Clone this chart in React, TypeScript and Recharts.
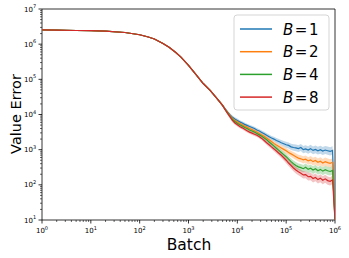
import React from "react";
import {
  ComposedChart,
  Line,
  Area,
  XAxis,
  YAxis,
  ReferenceArea,
} from "recharts";

// batches where all runs still overlap
const sharedBatch = [1, 2, 5, 10, 20, 50, 100, 150, 200, 300, 400, 550, 700, 1000, 1400, 2000, 2800, 4000];
const sharedValue = [2550000, 2500000, 2450000, 2420000, 2350000, 2150000, 1850000, 1600000, 1400000, 1050000, 820000, 580000, 430000, 250000, 141000, 76000, 48000, 26300];

const tailBatch = [
  5010, 5620, 6310, 7080, 7940, 8910, 10000, 11200, 12600, 14100, 15800, 17800, 20000, 22400, 25100, 28200,
  31600, 35500, 39800, 44700, 50100, 56200, 63100, 70800, 79400, 89100, 100000, 112000, 126000, 141000, 158000,
  178000, 200000, 224000, 251000, 282000, 316000, 355000, 398000, 447000, 501000, 562000, 631000, 708000, 794000,
  891000, 1000000,
];

const b1Tail = [
  18200, 14500, 11700, 9770, 8320, 7410, 6760, 6170, 5750, 5250, 4900, 4570, 4270, 3980, 3630, 3390, 3090, 2820,
  2570, 2340, 2140, 2000, 1820, 1700, 1580, 1480, 1380, 1320, 1200, 1150, 1120, 1070, 1150, 1000, 1050, 977, 1070,
  955, 1020, 933, 1000, 912, 977, 933, 891, 955, 10,
];
const b2Tail = [
  18200, 14100, 11500, 9330, 7760, 6760, 6170, 5620, 5130, 4680, 4370, 3980, 3720, 3470, 3160, 2880, 2630, 2400,
  2140, 1910, 1700, 1510, 1350, 1230, 1120, 1020, 933, 832, 759, 692, 631, 575, 550, 513, 537, 479, 513, 457, 490,
  437, 468, 417, 457, 427, 407, 437, 10,
];
const b4Tail = [
  17800, 14100, 11200, 8910, 7240, 6310, 5620, 5130, 4680, 4270, 3980, 3630, 3390, 3160, 2880, 2630, 2400, 2140,
  1910, 1660, 1450, 1260, 1100, 955, 832, 724, 631, 537, 457, 398, 355, 324, 309, 288, 316, 275, 295, 263, 288, 251,
  275, 245, 269, 251, 240, 257, 10,
];
const b8Tail = [
  17800, 13800, 10700, 8510, 6760, 5750, 5130, 4570, 4170, 3800, 3470, 3160, 2950, 2750, 2570, 2340, 2090, 1820,
  1580, 1380, 1200, 1050, 912, 794, 692, 589, 501, 417, 355, 302, 263, 234, 214, 191, 195, 170, 174, 151, 162, 141,
  155, 135, 148, 132, 126, 138, 10,
];

// multiplicative half-width of the shaded band, per point
const sharedSpread = [1.02, 1.02, 1.02, 1.02, 1.02, 1.02, 1.02, 1.02, 1.02, 1.02, 1.02, 1.03, 1.03, 1.04, 1.04, 1.05, 1.05, 1.06];
const tailSpread = [
  1.07, 1.09, 1.11, 1.12, 1.13, 1.13, 1.13, 1.12, 1.12, 1.12, 1.12, 1.12, 1.12, 1.12, 1.13, 1.13, 1.13, 1.14, 1.14,
  1.15, 1.15, 1.16, 1.17, 1.18, 1.19, 1.2, 1.21, 1.22, 1.23, 1.24, 1.25, 1.25, 1.26, 1.27, 1.27, 1.28, 1.28, 1.29,
  1.29, 1.29, 1.3, 1.3, 1.3, 1.31, 1.31, 1.31, 1.0,
];

const series = [
  { key: "b1", label: "1", color: "#1f77b4", tail: b1Tail },
  { key: "b2", label: "2", color: "#ff7f0e", tail: b2Tail },
  { key: "b4", label: "4", color: "#2ca02c", tail: b4Tail },
  { key: "b8", label: "8", color: "#d62728", tail: b8Tail },
];

const xMajor = [1, 10, 100, 1000, 10000, 100000, 1000000];
const yMajor = [10, 100, 1000, 10000, 100000, 1000000, 10000000];

const batch = [...sharedBatch, ...tailBatch];
const spread = [...sharedSpread, ...tailSpread];
const rows = batch.map((b, i) => {
  const row: Record<string, any> = { batch: b };
  series.forEach((s) => {
    const v = i < sharedValue.length ? sharedValue[i] : s.tail[i - sharedValue.length];
    row[s.key] = v;
    row[s.key + "Band"] = [v / spread[i], v * spread[i]];
  });
  return row;
});

const minorTicks = (majors: number[]) => {
  const out: number[] = [];
  majors.slice(0, -1).forEach((m) => {
    for (let k = 1; k < 10; k++) out.push(m * k);
  });
  out.push(majors[majors.length - 1]);
  return out;
};

const FONT = "DejaVu Sans, sans-serif";

const expOf = (v: number) => Math.round(Math.log10(v));
const isMajor = (v: number) => Math.abs(Math.log10(v) - expOf(v)) < 1e-6;

function XTick({ x, y, payload }: any) {
  const major = isMajor(payload.value);
  return (
    <g>
      <line x1={x} x2={x} y1={y} y2={y + (major ? 3.5 : 2)} stroke="#000" strokeWidth={major ? 0.8 : 0.6} />
      {major && (
        <text x={x} y={y + 13} textAnchor="middle" fontSize={7} fontFamily={FONT} fill="#000">
          10<tspan dy={-3.5} fontSize={5}>{expOf(payload.value)}</tspan>
        </text>
      )}
    </g>
  );
}

function YTick({ x, y, payload }: any) {
  const major = isMajor(payload.value);
  return (
    <g>
      <line x1={x} x2={x - (major ? 3.5 : 2)} y1={y} y2={y} stroke="#000" strokeWidth={major ? 0.8 : 0.6} />
      {major && (
        <text x={x - 9} y={y + 2.5} textAnchor="end" fontSize={7} fontFamily={FONT} fill="#000">
          10
        </text>
      )}
      {major && (
        <text x={x - 9} y={y - 1} textAnchor="start" fontSize={5} fontFamily={FONT} fill="#000">
          {expOf(payload.value)}
        </text>
      )}
    </g>
  );
}

function LegendBox() {
  return (
    <svg width={97} height={97} style={{ position: "absolute", left: 233, top: 14 }}>
      <rect x={1} y={1} width={95} height={95} rx={3} fill="rgba(255,255,255,0.8)" stroke="#d5d5d5" strokeWidth={1} />
      {series.map((s, i) => {
        const cy = 15 + i * 22.7;
        return (
          <g key={s.key}>
            <line x1={7} x2={39} y1={cy} y2={cy} stroke={s.color} strokeWidth={1.5} />
            <text x={50} y={cy + 5.5} fontSize={15} fontFamily={FONT} fill="#000">
              <tspan fontStyle="italic">B</tspan>
              <tspan dx={1.5}>=</tspan>
              <tspan dx={1.5}>{s.label}</tspan>
            </text>
          </g>
        );
      })}
    </svg>
  );
}

export default function App() {
  return (
    <div style={{ position: "absolute", left: 0, top: 0, width: 349, height: 258, background: "#fff" }}>
      <ComposedChart width={349} height={258} data={rows} margin={{ top: 9, right: 14, bottom: 0, left: 0 }}>
        <XAxis
          dataKey="batch"
          type="number"
          scale="log"
          domain={[1, 1000000]}
          allowDataOverflow
          ticks={minorTicks(xMajor)}
          interval={0}
          tick={<XTick />}
          tickSize={0}
          tickMargin={0}
          tickLine={false}
          axisLine={false}
          height={38}
        />
        <YAxis
          type="number"
          scale="log"
          domain={[10, 10000000]}
          allowDataOverflow
          ticks={minorTicks(yMajor)}
          interval={0}
          tick={<YTick />}
          tickSize={0}
          tickMargin={0}
          tickLine={false}
          axisLine={false}
          width={42}
        />
        {series.map((s) => (
          <Area
            key={s.key + "Band"}
            dataKey={s.key + "Band"}
            stroke="none"
            fill={s.color}
            fillOpacity={0.28}
            isAnimationActive={false}
            activeDot={false}
          />
        ))}
        {series.map((s) => (
          <Line
            key={s.key}
            dataKey={s.key}
            stroke={s.color}
            strokeWidth={1.2}
            dot={false}
            isAnimationActive={false}
          />
        ))}
        <ReferenceArea x1={1} x2={1000000} y1={10} y2={10000000} fill="none" stroke="#000" strokeWidth={0.8} ifOverflow="visible" />
      </ComposedChart>
      <LegendBox />
      <svg width={349} height={258} style={{ position: "absolute", left: 0, top: 0, pointerEvents: "none" }}>
        <text x={16} y={114} transform="rotate(-90 16 114)" dy={5} textAnchor="middle" fontSize={14.5} fontFamily={FONT} fill="#000">
          Value Error
        </text>
        <text x={189} y={250} textAnchor="middle" fontSize={15.5} fontFamily={FONT} fill="#000">
          Batch
        </text>
      </svg>
    </div>
  );
}
